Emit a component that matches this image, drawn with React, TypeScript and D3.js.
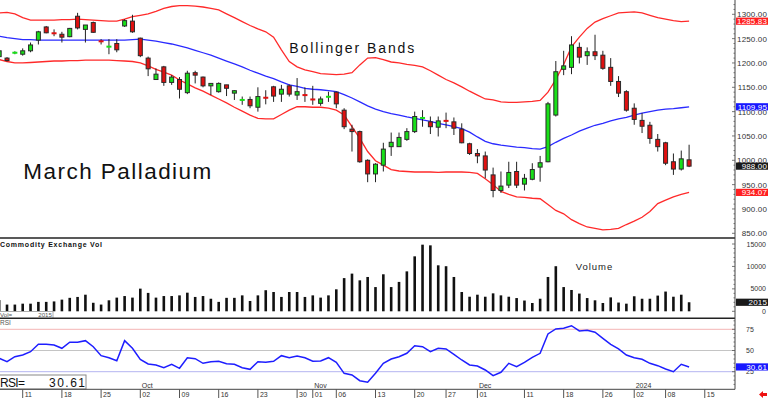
import React from "react";
import * as d3 from "d3";

// trading days shown on the chart (Sep 6 2023 .. Jan 11 2024) + two future axis days
const tradeDates = [
  "2023-09-06", "2023-09-07", "2023-09-08", "2023-09-11", "2023-09-12", "2023-09-13", "2023-09-14", "2023-09-15",
  "2023-09-18", "2023-09-19", "2023-09-20", "2023-09-21", "2023-09-22", "2023-09-25", "2023-09-26", "2023-09-27",
  "2023-09-28", "2023-09-29", "2023-10-02", "2023-10-03", "2023-10-04", "2023-10-05", "2023-10-06", "2023-10-09",
  "2023-10-10", "2023-10-11", "2023-10-12", "2023-10-13", "2023-10-16", "2023-10-17", "2023-10-18", "2023-10-19",
  "2023-10-20", "2023-10-23", "2023-10-24", "2023-10-25", "2023-10-26", "2023-10-27", "2023-10-30", "2023-10-31",
  "2023-11-01", "2023-11-02", "2023-11-03", "2023-11-06", "2023-11-07", "2023-11-08", "2023-11-09", "2023-11-10",
  "2023-11-13", "2023-11-14", "2023-11-15", "2023-11-16", "2023-11-17", "2023-11-20", "2023-11-21", "2023-11-22",
  "2023-11-24", "2023-11-27", "2023-11-28", "2023-11-29", "2023-11-30", "2023-12-01", "2023-12-04", "2023-12-05",
  "2023-12-06", "2023-12-07", "2023-12-08", "2023-12-11", "2023-12-12", "2023-12-13", "2023-12-14", "2023-12-15",
  "2023-12-18", "2023-12-19", "2023-12-20", "2023-12-21", "2023-12-22", "2023-12-26", "2023-12-27", "2023-12-28",
  "2023-12-29", "2024-01-02", "2024-01-03", "2024-01-04", "2024-01-05", "2024-01-08", "2024-01-09", "2024-01-10",
  "2024-01-11",
];
const futureDates = ["2024-01-12", "2024-01-15"];

const openPx = [
  1213, 1210, 1220, 1218, 1225, 1247, 1274, 1262, 1259, 1254, 1296, 1269, 1283, 1245, 1233, 1240, 1276, 1286,
  1251, 1210, 1166, 1192, 1160, 1166, 1139, 1180, 1171, 1153, 1141, 1155, 1138, 1123, 1125, 1109, 1129, 1151,
  1136, 1153, 1134, 1135, 1126, 1117, 1130, 1140, 1103, 1064, 1059, 1000, 972, 990, 1028, 1028, 1043, 1059,
  1086, 1079, 1068, 1082, 1079, 1064, 1034, 1014, 1009, 970, 938, 949, 977, 951, 961, 986, 997, 1093,
  1187, 1191, 1232, 1215, 1223, 1216, 1191, 1162, 1141, 1107, 1082, 1072, 1043, 1036, 997, 982, 1001,
];
const highPx = [
  1229, 1212, 1224, 1230, 1242, 1266, 1276, 1269, 1264, 1272, 1303, 1278, 1285, 1249, 1249, 1249, 1290, 1299,
  1252, 1213, 1189, 1194, 1175, 1171, 1184, 1184, 1172, 1158, 1160, 1155, 1144, 1131, 1131, 1150, 1144, 1153,
  1155, 1156, 1169, 1150, 1153, 1131, 1141, 1141, 1107, 1073, 1061, 1002, 994, 1036, 1057, 1057, 1066, 1100,
  1103, 1090, 1090, 1098, 1088, 1076, 1036, 1023, 1018, 985, 977, 997, 997, 972, 994, 1009, 1120, 1204,
  1225, 1255, 1242, 1232, 1258, 1225, 1210, 1173, 1144, 1117, 1097, 1079, 1054, 1038, 1014, 1020, 1032,
];
const lowPx = [
  1210, 1203, 1218, 1215, 1222, 1238, 1261, 1255, 1242, 1253, 1269, 1242, 1262, 1238, 1218, 1222, 1274, 1262,
  1212, 1173, 1165, 1153, 1155, 1127, 1136, 1158, 1150, 1134, 1139, 1132, 1124, 1114, 1107, 1100, 1115, 1120,
  1120, 1131, 1124, 1120, 1114, 1112, 1120, 1107, 1064, 1018, 995, 955, 955, 977, 1009, 1028, 1040, 1056,
  1069, 1054, 1049, 1066, 1052, 1035, 1011, 994, 963, 924, 933, 943, 943, 938, 959, 956, 996, 1090,
  1175, 1177, 1199, 1196, 1206, 1186, 1153, 1130, 1100, 1073, 1056, 1034, 1018, 990, 970, 979, 986,
];
const closePx = [
  1225, 1205, 1222, 1225, 1237, 1264, 1262, 1260, 1253, 1271, 1272, 1278, 1263, 1244, 1234, 1227, 1287, 1264,
  1215, 1188, 1177, 1160, 1171, 1146, 1179, 1175, 1153, 1158, 1158, 1148, 1143, 1125, 1112, 1131, 1128, 1132,
  1146, 1136, 1141, 1133, 1124, 1126, 1131, 1116, 1069, 1059, 997, 972, 992, 1023, 1037, 1047, 1059, 1090,
  1088, 1069, 1081, 1080, 1066, 1036, 1014, 1009, 980, 938, 947, 975, 949, 963, 981, 995, 1116, 1182,
  1194, 1237, 1212, 1223, 1215, 1189, 1162, 1138, 1103, 1084, 1070, 1045, 1028, 994, 982, 1003, 988,
];
const volume = [
  2500, 1500, 1500, 1700, 1700, 2100, 2100, 2200, 2600, 3000, 3200, 3700, 1900, 1500, 2450, 3050, 3400, 3050,
  5050, 4100, 3050, 3400, 3400, 3550, 4150, 3200, 3400, 2800, 2100, 3000, 3000, 3550, 2300, 3550, 4700, 4300,
  3200, 4300, 4300, 3200, 3550, 3050, 3550, 4900, 7400, 8400, 6900, 7650, 5400, 8250, 5400, 6550, 8900, 12250,
  14850, 14700, 10250, 10050, 7650, 4300, 3250, 3700, 3250, 4000, 3550, 3250, 2950, 2400, 1850, 2800, 7650, 10050,
  5400, 4750, 3950, 2950, 2450, 1850, 3100, 1950, 1700, 3350, 2800, 2800, 3500, 4400, 3250, 3700, 2015,
];
const upperBand = [
  1303, 1304, 1301, 1293, 1288, 1288, 1288, 1288, 1289, 1289, 1290, 1289, 1288, 1287, 1286, 1286, 1290, 1295,
  1298, 1301, 1306, 1312, 1316, 1318, 1318, 1317, 1315, 1312, 1309, 1301, 1293, 1285, 1277, 1270, 1264, 1253,
  1227, 1203, 1192, 1186, 1182, 1178, 1177, 1176, 1177, 1180, 1196, 1210, 1211, 1207, 1202, 1200, 1197, 1195,
  1192, 1184, 1175, 1166, 1159, 1151, 1142, 1134, 1126, 1124, 1120, 1119, 1119, 1120, 1121, 1123, 1140, 1166,
  1197, 1233, 1253, 1271, 1284, 1291, 1297, 1303, 1304, 1305, 1303, 1298, 1293, 1290, 1287, 1285, 1285.83,
];
const midBand = [
  1255, 1252, 1250, 1248, 1248, 1247, 1247, 1247, 1247, 1247, 1247, 1247, 1247, 1247, 1247, 1247, 1247, 1248,
  1249, 1247, 1245, 1242, 1239, 1235, 1231, 1226, 1221, 1216, 1210, 1204, 1198, 1192, 1185, 1179, 1173, 1168,
  1161, 1155, 1152, 1148, 1146, 1145, 1143, 1141, 1135, 1128, 1120, 1112, 1105, 1100, 1096, 1093, 1089, 1086,
  1083, 1080, 1076, 1073, 1069, 1065, 1058, 1048, 1039, 1034, 1031, 1029, 1027, 1026, 1024, 1023, 1028, 1037,
  1045, 1052, 1060, 1066, 1072, 1076, 1081, 1085, 1088, 1093, 1097, 1100, 1103, 1105, 1106, 1108, 1109.95,
];
const lowerBand = [
  1207, 1203, 1200, 1200, 1201, 1202, 1203, 1204, 1204, 1205, 1205, 1206, 1206, 1206, 1206, 1205, 1204, 1203,
  1200, 1194, 1187, 1181, 1175, 1165, 1157, 1149, 1142, 1134, 1126, 1118, 1109, 1101, 1093, 1086, 1085, 1085,
  1094, 1103, 1110, 1110, 1109, 1109, 1107, 1103, 1093, 1069, 1045, 1018, 999, 990, 981, 978, 977, 976,
  976, 976, 975, 976, 976, 976, 975, 973, 962, 950, 936, 930, 925, 924, 922, 921, 909, 897,
  890, 878, 870, 863, 860, 857, 858, 860, 868, 875, 883, 895, 911, 918, 925, 930, 934.07,
];
const rsi = [
  40.8, 36.8, 42.7, 44.7, 48.6, 57.3, 57.3, 56.5, 52.6, 59.7, 59.7, 61.6, 54.5, 43.9, 41.5, 38, 61.6, 52.6,
  39.6, 34.1, 32.9, 29.7, 33.7, 29, 41.5, 40.3, 34.9, 36.8, 37.3, 34.4, 33.7, 29.7, 27.8, 36.8, 36.1, 37.3,
  43.9, 41.5, 43.5, 41.5, 37.3, 37.7, 41.5, 36.1, 23.1, 21.1, 14.4, 12.5, 23.1, 34.9, 40, 42.7, 46.7, 55.7,
  54.5, 48.6, 52.6, 51.8, 45.5, 38.8, 32.9, 31.7, 27, 20.3, 24.3, 34.9, 30.9, 36.1, 42, 46.7, 69.5, 75.4,
  76.2, 79.2, 73, 73.8, 71.5, 64.4, 57.3, 51.8, 44.7, 41.5, 39.6, 34.9, 32.1, 28.2, 25, 33.7, 30.61,
];

const weekTicks = [
  "2023-09-11", "2023-09-18", "2023-09-25", "2023-10-02", "2023-10-09", "2023-10-16", "2023-10-23", "2023-10-30",
  "2023-11-01", "2023-11-06", "2023-11-13", "2023-11-20", "2023-11-27", "2023-12-01", "2023-12-11", "2023-12-18",
  "2023-12-26", "2024-01-02", "2024-01-08", "2024-01-15",
];
const monthLabels = [
  { date: "2023-10-02", text: "Oct" },
  { date: "2023-11-01", text: "Nov" },
  { date: "2023-12-01", text: "Dec" },
  { date: "2024-01-02", text: "2024" },
];
const priceTicks = [850, 900, 950, 1000, 1050, 1100, 1150, 1200, 1250, 1300];
const volTicks = [0, 5000, 10000, 15000];
const rsiTicks = [25, 50, 75];

const AX = 735;
const FONT = "'Liberation Sans', Arial, sans-serif";
const GREEN = "#18e018";
const RED = "#e01010";

export default function App() {
  const allDates = [...tradeDates, ...futureDates];
  const x = d3.scaleLinear().domain([0, 90]).range([-0.82, 704.78]);
  const xd = (d: string) => x(allDates.indexOf(d));
  const yP = d3.scaleLinear().domain([850, 1300]).range([233.3, 14.3]);
  const yV = d3.scaleLinear().domain([0, 15000]).range([311.3, 244]);
  const yR = d3.scaleLinear().domain([25, 75]).range([371.7, 329.3]);

  const bandLine = d3.line<number>().x((_, i) => x(i)).y((v) => yP(v));
  const rsiLine = d3.line<number>().x((_, i) => x(i)).y((v) => yR(v));

  const last = tradeDates.length - 1;
  const valueBoxes = [
    { y: yP(upperBand[last]), text: upperBand[last].toFixed(2), fill: "#ff2020" },
    { y: yP(midBand[last]), text: midBand[last].toFixed(2), fill: "#1818ff" },
    { y: yP(closePx[last]), text: closePx[last].toFixed(2), fill: "#1a1a1a" },
    { y: yP(lowerBand[last]), text: lowerBand[last].toFixed(2), fill: "#ff2020" },
    { y: yV(volume[last]), text: String(volume[last]), fill: "#1a1a1a" },
    { y: yR(rsi[last]), text: rsi[last].toFixed(2), fill: "#1818ff" },
  ];

  const minorP = d3.range(850, 1330, 10);
  const minorV = d3.range(0, 16000, 1000);
  const minorR = d3.range(10, 90, 5);

  return (
    <svg
      width={768}
      height={398}
      style={{ position: "absolute", left: 0, top: 0, background: "#fff" }}
      fontFamily={FONT}
    >
      <defs>
        <clipPath id="pclip">
          <rect x={0} y={0} width={AX} height={238} />
        </clipPath>
        <clipPath id="rclip">
          <rect x={0} y={319} width={AX} height={70} />
        </clipPath>
      </defs>

      {/* price panel */}
      <g clipPath="url(#pclip)">
        <path d={bandLine(upperBand) || ""} fill="none" stroke="#ff2a2a" strokeWidth={1.3} />
        <path d={bandLine(lowerBand) || ""} fill="none" stroke="#ff2a2a" strokeWidth={1.3} />
        <path d={bandLine(midBand) || ""} fill="none" stroke="#2a2aff" strokeWidth={1.3} />
        {tradeDates.map((d, i) => {
          const cx = x(i);
          const o = openPx[i];
          const c = closePx[i];
          const up = c >= o;
          const top = yP(Math.max(o, c));
          const bot = yP(Math.min(o, c));
          const col = up ? GREEN : RED;
          const doji = bot - top < 2;
          return (
            <g key={d}>
              <line x1={cx} x2={cx} y1={yP(highPx[i])} y2={yP(lowPx[i])} stroke="#222" strokeWidth={1} />
              {doji ? (
                <rect x={cx - 2.5} y={(top + bot) / 2 - 1} width={5} height={2} fill={col} />
              ) : (
                <rect x={cx - 2} y={top} width={4} height={bot - top} fill={col} stroke="#2a2a2a" strokeWidth={1} />
              )}
            </g>
          );
        })}
        <text x={289.3} y={53.3} fontSize={14} textLength={125} lengthAdjust="spacing" fill="#111">
          Bollinger Bands
        </text>
        <text x={23.3} y={179.3} fontSize={22.5} textLength={188} lengthAdjust="spacing" fill="#111">
          March Palladium
        </text>
      </g>

      {/* volume panel */}
      <g>
        {tradeDates.map((d, i) => (
          <rect key={d} x={x(i) - 1.3} y={yV(volume[i])} width={2.6} height={yV(0) - yV(volume[i])} fill="#111" />
        ))}
        <text x={0} y={246.5} fontSize={7} fontWeight="bold" textLength={102} lengthAdjust="spacing" fill="#111">
          Commodity Exchange Vol
        </text>
        <text x={575.7} y={270} fontSize={9.5} textLength={36.6} lengthAdjust="spacing" fill="#222">
          Volume
        </text>
        <rect x={-1} y={311.5} width={54} height={7} fill="#fff" stroke="#999" strokeWidth={0.8} />
        <text x={0} y={317.3} fontSize={6.2} fill="#555">Vol=</text>
        <text x={52} y={317.3} fontSize={6.2} fill="#555" textAnchor="end">{volume[last]}</text>
      </g>

      {/* RSI panel */}
      <g>
        <line x1={0} x2={AX} y1={yR(75)} y2={yR(75)} stroke="#f4b4b4" strokeWidth={1} />
        <line x1={0} x2={AX} y1={yR(50)} y2={yR(50)} stroke="#c4c4c4" strokeWidth={1} />
        <line x1={0} x2={AX} y1={yR(25)} y2={yR(25)} stroke="#b4b4f0" strokeWidth={1} />
        <g clipPath="url(#rclip)">
          <path d={rsiLine(rsi) || ""} fill="none" stroke="#1e1eff" strokeWidth={1.5} />
        </g>
        <text x={0} y={325} fontSize={6.5} fill="#555">RSI</text>
        <rect x={-1} y={375} width={87} height={14} fill="#fff" stroke="#888" strokeWidth={1} />
        <text x={0} y={387} fontSize={12} textLength={25} lengthAdjust="spacing" fill="#111">RSI=</text>
        <text x={49} y={387} fontSize={12} textLength={36} lengthAdjust="spacing" fill="#111">
          {rsi[last].toFixed(2)}
        </text>
        {monthLabels.map((m) => (
          <text key={m.text} x={xd(m.date) + 1.5} y={388} fontSize={7} fill="#333">
            {m.text}
          </text>
        ))}
      </g>

      {/* panel separators */}
      <line x1={0} x2={AX} y1={238} y2={238} stroke="#222" strokeWidth={1.6} />
      <line x1={0} x2={AX} y1={318.3} y2={318.3} stroke="#222" strokeWidth={1.6} />
      <line x1={0} x2={AX} y1={389.3} y2={389.3} stroke="#444" strokeWidth={1} />
      <line x1={AX} x2={AX} y1={0} y2={389.3} stroke="#444" strokeWidth={1} />

      {/* right axis ticks and labels */}
      {minorP.map((v) => (
        <line key={"mp" + v} x1={AX - (v % 50 === 0 ? 3 : 1.5)} x2={AX} y1={yP(v)} y2={yP(v)} stroke="#555" strokeWidth={0.8} />
      ))}
      {minorV.map((v) => (
        <line key={"mv" + v} x1={AX - (v % 5000 === 0 ? 3 : 1.5)} x2={AX} y1={yV(v)} y2={yV(v)} stroke="#555" strokeWidth={0.8} />
      ))}
      {minorR.map((v) => (
        <line key={"mr" + v} x1={AX - (v % 25 === 0 ? 3 : 1.5)} x2={AX} y1={yR(v)} y2={yR(v)} stroke="#555" strokeWidth={0.8} />
      ))}
      {priceTicks.map((v) => (
        <text key={"p" + v} x={767} y={yP(v) + 3} fontSize={8} textAnchor="end" letterSpacing={0.15} fill="#333">
          {v.toFixed(2)}
        </text>
      ))}
      {volTicks.map((v) => (
        <text key={"v" + v} x={766} y={yV(v) + 2.5} fontSize={7} textAnchor="end" fill="#333">
          {v}
        </text>
      ))}
      {rsiTicks.map((v) => (
        <text key={"r" + v} x={746} y={yR(v) + 2.5} fontSize={7} fill="#333">
          {v}
        </text>
      ))}
      {valueBoxes.map((b) => (
        <g key={b.text}>
          <rect x={736} y={b.y - 3.6} width={32} height={7.2} fill={b.fill} />
          <text x={767} y={b.y + 2.8} fontSize={8} textAnchor="end" letterSpacing={0.15} fill="#fff">
            {b.text}
          </text>
        </g>
      ))}

      {/* date axis */}
      {weekTicks.map((d) => (
        <g key={d}>
          <line x1={xd(d)} x2={xd(d)} y1={389.3} y2={398} stroke="#555" strokeWidth={1} />
          <text x={xd(d) + 2} y={397} fontSize={7} fill="#333">
            {d.slice(8, 10)}
          </text>
        </g>
      ))}
      <polygon
        points="759,394.5 763,391 763,393 767,393 767,396 763,396 763,398"
        fill="#ee1111"
      />
    </svg>
  );
}
